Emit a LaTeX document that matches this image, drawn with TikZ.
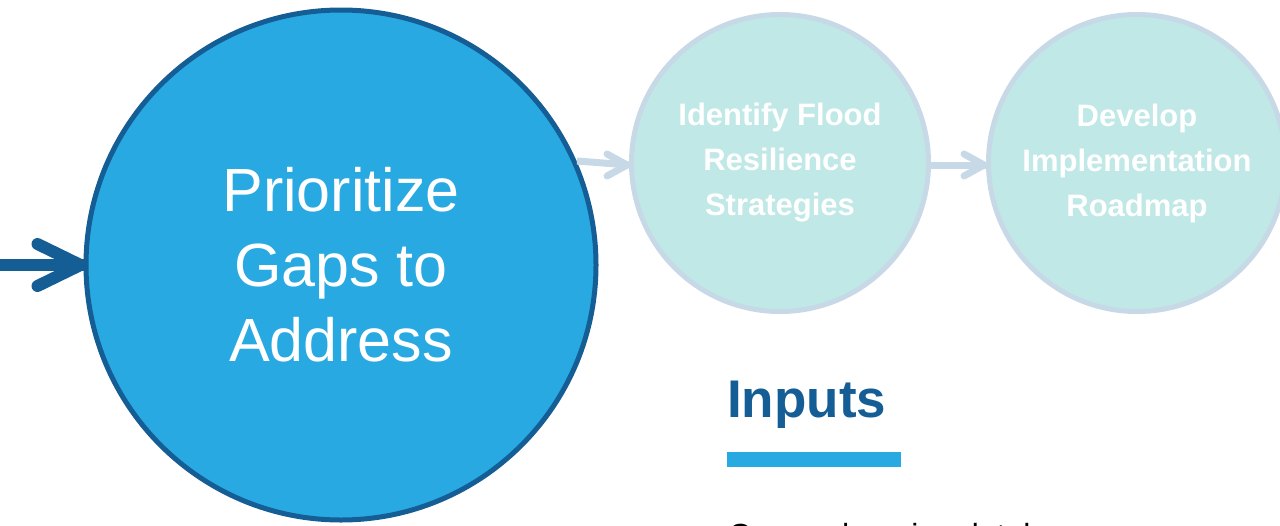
\documentclass[tikz,border=0pt]{standalone}
\usepackage{fontspec}
\setmainfont{Liberation Sans}
\definecolor{bigfill}{HTML}{29A9E1}
\definecolor{darkblue}{HTML}{155E95}
\definecolor{lightfill}{HTML}{BFE8E6}
\definecolor{lightedge}{HTML}{C7D9E6}
\begin{document}
\begin{tikzpicture}[x=1pt,y=-1pt,
  bigstep/.style={circle,fill=bigfill,draw=darkblue,line width=5pt,minimum size=510pt,inner sep=0pt,
    text=white,font=\fontsize{61}{75}\selectfont,align=center},
  smallstep/.style={circle,fill=lightfill,draw=lightedge,line width=5pt,minimum size=297pt,inner sep=0pt,
    text=white,font=\fontsize{31}{45}\selectfont\bfseries,align=center},
  lightarrow/.style={draw=lightedge,line width=7pt,line cap=round},
  darkarrow/.style={draw=darkblue,line width=12pt,line cap=round}]
\useasboundingbox (0,0) rectangle (1280,525);
\clip (0,0) rectangle (1280,525);
\node[bigstep] (big) at (341,265) {Prioritize\\Gaps to\\Address};
\node[smallstep] (s2) at (780,163) {Identify Flood\\Resilience\\Strategies};
\node[smallstep] (s3) at (1137,163) {Develop\\Implementation\\Roadmap};
\coordinate (in) at (0,265);
% left arrow
\draw[darkarrow,line cap=butt] (in) -- (big.west);
\draw[darkarrow,line join=round] ([xshift=-46,yshift=-21]big.west) -- ([xshift=-3]big.west) -- ([xshift=-46,yshift=21]big.west);
% light arrows
\coordinate (a1s) at (577,161);
\draw[lightarrow,line cap=butt] (a1s) -- ([yshift=-2]s2.west);
\draw[lightarrow,line join=round] ([xshift=-22,yshift=-13]s2.west) -- ([xshift=-2,yshift=-2]s2.west) -- ([xshift=-22,yshift=9]s2.west);
\draw[lightarrow,line cap=butt] ([yshift=-2]s2.east) -- ([yshift=-2]s3.west);
\draw[lightarrow,line join=round] ([xshift=-22,yshift=-13]s3.west) -- ([xshift=-2,yshift=-2]s3.west) -- ([xshift=-22,yshift=9]s3.west);
% inputs
\node[anchor=base west,inner sep=0pt,text=darkblue,font=\fontsize{53}{60}\selectfont\bfseries] (inputs) at (727,417) {Inputs};
\fill[bigfill] (727,452) rectangle (901,467);
\node[anchor=base west,inner sep=0pt,font=\fontsize{32}{40}\selectfont] (db) at (728,546) {Comprehensive database};
\end{tikzpicture}
\end{document}
